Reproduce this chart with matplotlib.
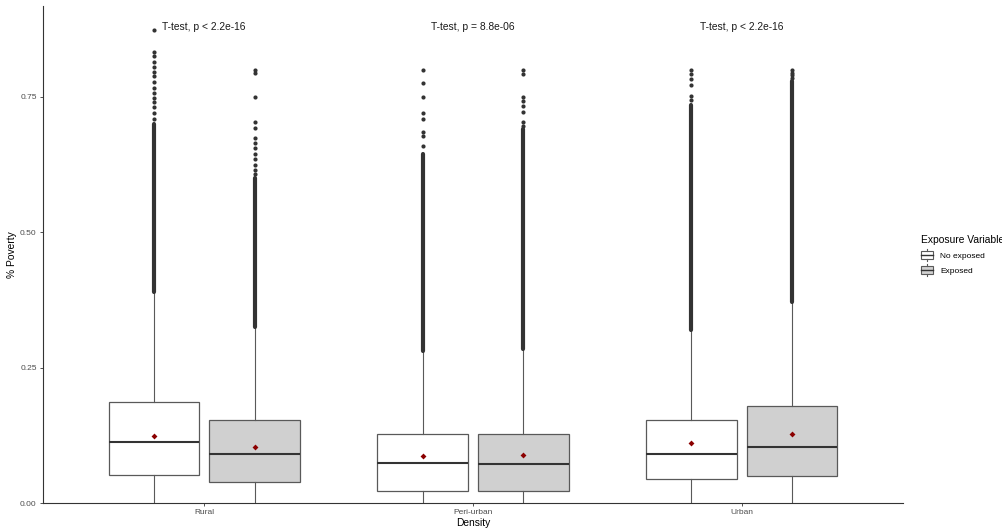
import matplotlib
matplotlib.use("Agg")
import matplotlib.pyplot as plt
from matplotlib.legend_handler import HandlerBase
from matplotlib.patches import Rectangle
from matplotlib.lines import Line2D

plt.rcParams['font.family'] = ['Liberation Sans', 'DejaVu Sans']

# ---------------- data ----------------
categories = ["Rural", "Peri-urban", "Urban"]
groups = ["No exposed", "Exposed"]
group_fills = ["#FFFFFF", "#D0D0D0"]

# per category: [No exposed, Exposed]
q1 = [[0.052, 0.038], [0.023, 0.023], [0.044, 0.049]]
median = [[0.112, 0.090], [0.074, 0.072], [0.090, 0.103]]
q3 = [[0.187, 0.153], [0.127, 0.128], [0.153, 0.180]]
whisk_lo = [[0.0, 0.0], [0.0, 0.0], [0.0, 0.0]]
whisk_hi = [[0.388, 0.325], [0.279, 0.283], [0.320, 0.371]]
means = [[0.124, 0.103], [0.087, 0.089], [0.110, 0.128]]

# dense runs of outliers (low, high)
outlier_bands = [
    [[(0.39, 0.70)], [(0.325, 0.600)]],
    [[(0.28, 0.645)], [(0.285, 0.690)]],
    [[(0.32, 0.735)], [(0.371, 0.780)]],
]
# isolated outliers
outlier_points = [
    [[0.874, 0.833, 0.825, 0.815, 0.805, 0.797, 0.788, 0.778, 0.767, 0.757, 0.748, 0.740, 0.731, 0.72, 0.71],
     [0.800, 0.795, 0.750, 0.703, 0.693, 0.675, 0.665, 0.655, 0.645, 0.635, 0.625, 0.615, 0.607]],
    [[0.800, 0.775, 0.750, 0.720, 0.710, 0.685, 0.678, 0.660],
     [0.800, 0.793, 0.750, 0.742, 0.733, 0.722, 0.703, 0.697]],
    [[0.800, 0.792, 0.783, 0.772, 0.752, 0.745],
     [0.800, 0.795, 0.790, 0.785]],
]

test_labels = ["T-test, p < 2.2e-16", "T-test, p = 8.8e-06", "T-test, p < 2.2e-16"]
label_y = 0.879

yticks = [0.00, 0.25, 0.50, 0.75]
ytick_labels = ["0.00", "0.25", "0.50", "0.75"]

# ---------------- figure ----------------
fig = plt.figure(figsize=(10.02, 5.30), dpi=100)
ax = fig.add_axes([43/1002, 1 - 503/530, (903-43)/1002, (503-6)/530])

offset = 0.1875
bw = 0.3375
edge = "#595959"
pt_col = "#333333"

for ci, cat in enumerate(categories):
    for gi in range(2):
        pos = ci + 1 + (-offset if gi == 0 else offset)
        stats = [dict(med=median[ci][gi], q1=q1[ci][gi], q3=q3[ci][gi],
                      whislo=whisk_lo[ci][gi], whishi=whisk_hi[ci][gi], fliers=[])]
        ax.bxp(stats, positions=[pos], widths=bw, patch_artist=True,
               showcaps=False, showfliers=False, manage_ticks=False,
               boxprops=dict(facecolor=group_fills[gi], edgecolor=edge, linewidth=0.9),
               whiskerprops=dict(color=edge, linewidth=0.8),
               medianprops=dict(color="#333333", linewidth=1.5))
        for lo, hi in outlier_bands[ci][gi]:
            ax.plot([pos, pos], [lo, hi], color=pt_col, linewidth=3.0,
                    solid_capstyle="round", zorder=3)
        pts = outlier_points[ci][gi]
        ax.plot([pos] * len(pts), pts, "o", color=pt_col, markersize=3.0,
                markeredgewidth=0, zorder=3)
        ax.plot([pos], [means[ci][gi]], "D", color="#8B0000", markersize=3.0,
                markeredgewidth=0, zorder=4)
    ax.text(ci + 1, label_y, test_labels[ci], ha="center", va="center",
            fontsize=7.4, color="#1A1A1A")

ax.set_xlim(0.4, 3.6)
ax.set_ylim(0, 0.918)
ax.set_xticks([1, 2, 3])
ax.set_xticklabels(categories)
ax.set_yticks(yticks)
ax.set_yticklabels(ytick_labels)
ax.tick_params(axis="both", labelsize=6, labelcolor="#4D4D4D", color="#333333",
               length=2.5, width=0.6, pad=2)
for s in ["top", "right"]:
    ax.spines[s].set_visible(False)
for s in ["left", "bottom"]:
    ax.spines[s].set_color("#333333")
    ax.spines[s].set_linewidth(0.8)
ax.set_xlabel("Density", fontsize=7.4, labelpad=1, color="#000000")
ax.set_ylabel("% Poverty", fontsize=7.4, labelpad=2, color="#000000")


class BoxHandler(HandlerBase):
    def __init__(self, fill):
        super().__init__()
        self.fill = fill

    def create_artists(self, legend, orig_handle, xdescent, ydescent, width, height, fontsize, trans):
        cx = width / 2 - xdescent
        bw_ = width * 0.9
        bh = height * 0.65
        by = -ydescent + (height - bh) / 2
        r = Rectangle((cx - bw_ / 2, by), bw_, bh, facecolor=self.fill,
                      edgecolor=edge, linewidth=0.8, transform=trans)
        med = Line2D([cx - bw_ / 2, cx + bw_ / 2], [by + bh / 2] * 2, color="#333333",
                     linewidth=1.0, transform=trans)
        w1 = Line2D([cx, cx], [-ydescent + height * 0.02, by], color=edge, linewidth=0.8, transform=trans)
        w2 = Line2D([cx, cx], [by + bh, -ydescent + height * 0.98], color=edge, linewidth=0.8, transform=trans)
        return [r, med, w1, w2]


h1 = Rectangle((0, 0), 1, 1)
h2 = Rectangle((0, 0), 1, 1)
leg = fig.legend([h1, h2], groups, title="Exposure Variable",
                 handler_map={h1: BoxHandler(group_fills[0]), h2: BoxHandler(group_fills[1])},
                 loc="upper left", bbox_to_anchor=(915/1002, 1 - 229/530),
                 frameon=False, fontsize=6, title_fontsize=7.4,
                 handlelength=1.6, handleheight=1.9, handletextpad=0.7,
                 labelspacing=0.3, borderpad=0.2)
leg._legend_box.align = "left"
leg._legend_box.sep = 3

fig.savefig("out.png", dpi=100)
